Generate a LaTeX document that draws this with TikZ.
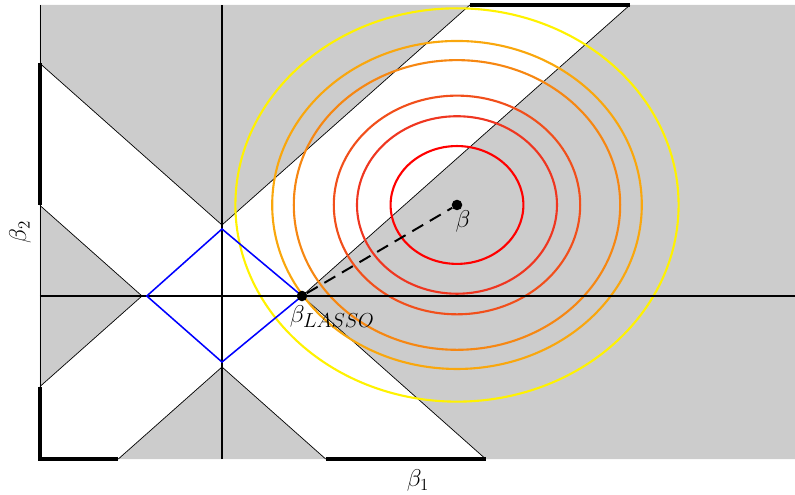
\documentclass[tikz,border=0pt]{standalone}
\usepackage{amsmath}
\usetikzlibrary{positioning}
\begin{document}
\begin{tikzpicture}[
    x=2cm, y=1.775cm,
    region/.style={fill=black!20},
    edge/.style={black, line width=0.5pt},
    border/.style={black, line width=2.2pt},
    axis/.style={black, line width=2pt},
    contour/.style={line width=1.5pt},
    ball/.style={blue, line width=1.1pt},
    estimate/.style={circle, fill=black, inner sep=0pt, minimum size=7.5pt},
    lbl/.style={font=\LARGE, inner sep=0pt}
]
\useasboundingbox (-2.775,-2.789) rectangle (7.1625,4.169);
\coordinate (bhat) at (2.9375,1.282);
\coordinate (blasso) at (1,0);
\fill[region] (-2.275,3.275) -- (0,1) -- (3.099,4.099) -- (-2.275,4.099) -- cycle;
\fill[region] (1,0) -- (5.099,4.099) -- (7.2,4.099) -- (7.2,-2.296) -- (3.296,-2.296) -- cycle;
\fill[region] (0,-1) -- (1.296,-2.296) -- (-1.296,-2.296) -- cycle;
\fill[region] (-1,0) -- (-2.275,1.275) -- (-2.275,-1.275) -- cycle;
\draw[edge] (-2.275,3.275) -- (0,1) -- (3.099,4.099);
\draw[edge] (5.099,4.099) -- (1,0) -- (3.296,-2.296);
\draw[edge] (-1.296,-2.296) -- (0,-1) -- (1.296,-2.296);
\draw[edge] (-2.275,1.275) -- (-1,0) -- (-2.275,-1.275);
\draw[edge] (-2.275,-2.296) -- (-2.275,4.099);
\draw[border] (-2.275,3.275) -- (-2.275,1.275);
\draw[border] (-2.275,-1.275) -- (-2.275,-2.296) -- (-1.296,-2.296);
\draw[border] (1.296,-2.296) -- (3.296,-2.296);
\draw[border] (3.099,4.099) -- (5.099,4.099);
\foreach \r/\p in {0.83/0, 1.25/12, 1.54/24, 2.04/50, 2.31/65, 2.77/100}
    \draw[contour, yellow!\p!red] (bhat) circle[radius=\r];
\draw[axis] (0,-2.296) -- (0,4.099);
\draw[axis] (-2.275,0) -- (7.2,0);
\draw[ball] (blasso) -- (0,0.944) -- (-0.94,0) -- (0,-0.93) -- cycle;
\node[estimate] (beta) at (bhat) {};
\node[estimate] (lasso) at (blasso) {};
\draw[line width=1.4pt, dash pattern=on 9pt off 5.5pt] (lasso) -- (beta);
\node[lbl, below right=1pt and -4pt of beta] (betalbl) {$\beta$};
\node[lbl, below right=3.8pt and -11.7pt of lasso] (lassolbl) {$\beta_{\mbox{\Large$LASSO$}}$};
\node[lbl] (xlbl) at (2.45,-2.6) {$\beta_1$};
\node[lbl, rotate=90] (ylbl) at (-2.525,0.9) {$\beta_2$};
\end{tikzpicture}
\end{document}
